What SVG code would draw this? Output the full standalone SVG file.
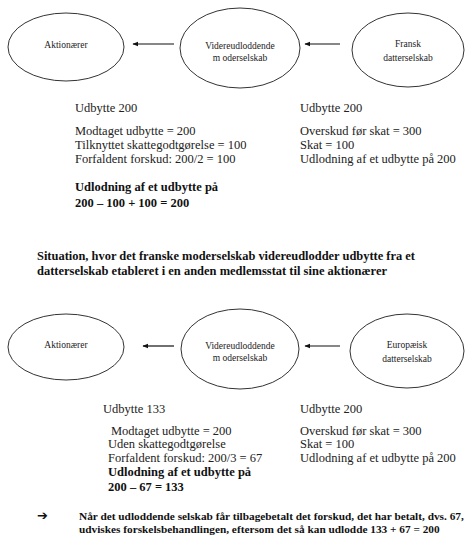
<svg xmlns="http://www.w3.org/2000/svg" width="467" height="537" viewBox="0 0 467 537">
<defs>
<style>
.node ellipse{fill:#fff;stroke:#333;stroke-width:1}
.lbl{font-family:'Liberation Serif','DejaVu Serif','Times New Roman',serif;font-size:9.5px;fill:#222;text-anchor:middle}
.t{font-family:'Liberation Serif','DejaVu Serif','Times New Roman',serif;font-size:12.5px;fill:#222}
.b{font-family:'Liberation Serif','DejaVu Serif','Times New Roman',serif;font-size:12.5px;fill:#111;font-weight:bold}
.n{font-family:'Liberation Serif','DejaVu Serif','Times New Roman',serif;font-size:11.3px;fill:#111;font-weight:bold}
.conn line{stroke:#111;stroke-width:1.2;marker-end:url(#ah)}
</style>
<marker id="ah" viewBox="0 0 10 10" refX="9" refY="5" markerWidth="6" markerHeight="6" markerUnits="userSpaceOnUse" orient="auto"><path d="M0,1 L10,5 L0,9 z" fill="#111"/></marker>
</defs>
<rect width="467" height="537" fill="#fff"/>

<g id="aktionaerer1" class="node"><ellipse cx="66" cy="47" rx="58" ry="34"/><text class="lbl" x="66" y="48">Aktionærer</text></g>
<g id="moder1" class="node"><ellipse cx="240" cy="48" rx="60" ry="40"/><text class="lbl" x="240" y="49">Videreudloddende</text><text class="lbl" x="240" y="61">m oderselskab</text></g>
<g id="fransk" class="node"><ellipse cx="408" cy="50" rx="56" ry="37"/><text class="lbl" x="408" y="47">Fransk</text><text class="lbl" x="408" y="61">datterselskab</text></g>

<g id="aktionaerer2" class="node"><ellipse cx="66" cy="347" rx="58" ry="33"/><text class="lbl" x="66" y="348">Aktionærer</text></g>
<g id="moder2" class="node"><ellipse cx="240" cy="349" rx="59" ry="40"/><text class="lbl" x="240" y="349">Videreudloddende</text><text class="lbl" x="240" y="361">m oderselskab</text></g>
<g id="europaeisk" class="node"><ellipse cx="407" cy="351" rx="57" ry="37"/><text class="lbl" x="407" y="348">Europæisk</text><text class="lbl" x="407" y="362">datterselskab</text></g>

<g id="connectors" class="conn">
<line x1="174" y1="44" x2="133" y2="44"/>
<line x1="340" y1="44" x2="305" y2="44"/>
<line x1="174" y1="346" x2="143" y2="346"/>
<line x1="340" y1="346" x2="305" y2="346"/>
</g>

<g id="top-left-text">
<text class="t" x="75" y="112">Udbytte 200</text>
<text class="t" x="75" y="135">Modtaget udbytte = 200</text>
<text class="t" x="75" y="149">Tilknyttet skattegodtgørelse = 100</text>
<text class="t" x="75" y="163">Forfaldent forskud: 200/2 = 100</text>
<text class="b" x="75" y="191">Udlodning af et udbytte på</text>
<text class="b" x="75" y="207">200 – 100 + 100 = 200</text>
</g>
<g id="top-right-text">
<text class="t" x="300" y="112">Udbytte 200</text>
<text class="t" x="300" y="135">Overskud før skat = 300</text>
<text class="t" x="300" y="149">Skat = 100</text>
<text class="t" x="300" y="163">Udlodning af et udbytte på 200</text>
</g>
<g id="situation">
<text class="b" x="37" y="260" textLength="378" lengthAdjust="spacingAndGlyphs">Situation, hvor det franske moderselskab videreudlodder udbytte fra et</text>
<text class="b" x="37" y="275" textLength="350" lengthAdjust="spacingAndGlyphs">datterselskab etableret i en anden medlemsstat til sine aktionærer</text>
</g>
<g id="bottom-left-text">
<text class="t" x="103" y="413">Udbytte 133</text>
<text class="t" x="111" y="435">Modtaget udbytte = 200</text>
<text class="t" x="108" y="448">Uden skattegodtgørelse</text>
<text class="t" x="108" y="462">Forfaldent forskud: 200/3 = 67</text>
<text class="b" x="108" y="476">Udlodning af et udbytte på</text>
<text class="b" x="108" y="491">200 – 67 = 133</text>
</g>
<g id="bottom-right-text">
<text class="t" x="300" y="413">Udbytte 200</text>
<text class="t" x="300" y="435">Overskud før skat = 300</text>
<text class="t" x="300" y="448">Skat = 100</text>
<text class="t" x="300" y="462">Udlodning af et udbytte på 200</text>
</g>
<g id="note">
<text x="37" y="520" style="font-family:'DejaVu Sans',sans-serif;font-size:13px;font-weight:bold;fill:#111">➔</text>
<text class="n" x="79" y="520">Når det udloddende selskab får tilbagebetalt det forskud, det har betalt, dvs. 67,</text>
<text class="n" x="79" y="533">udviskes forskelsbehandlingen, eftersom det så kan udlodde 133 + 67 = 200</text>
</g>
</svg>
